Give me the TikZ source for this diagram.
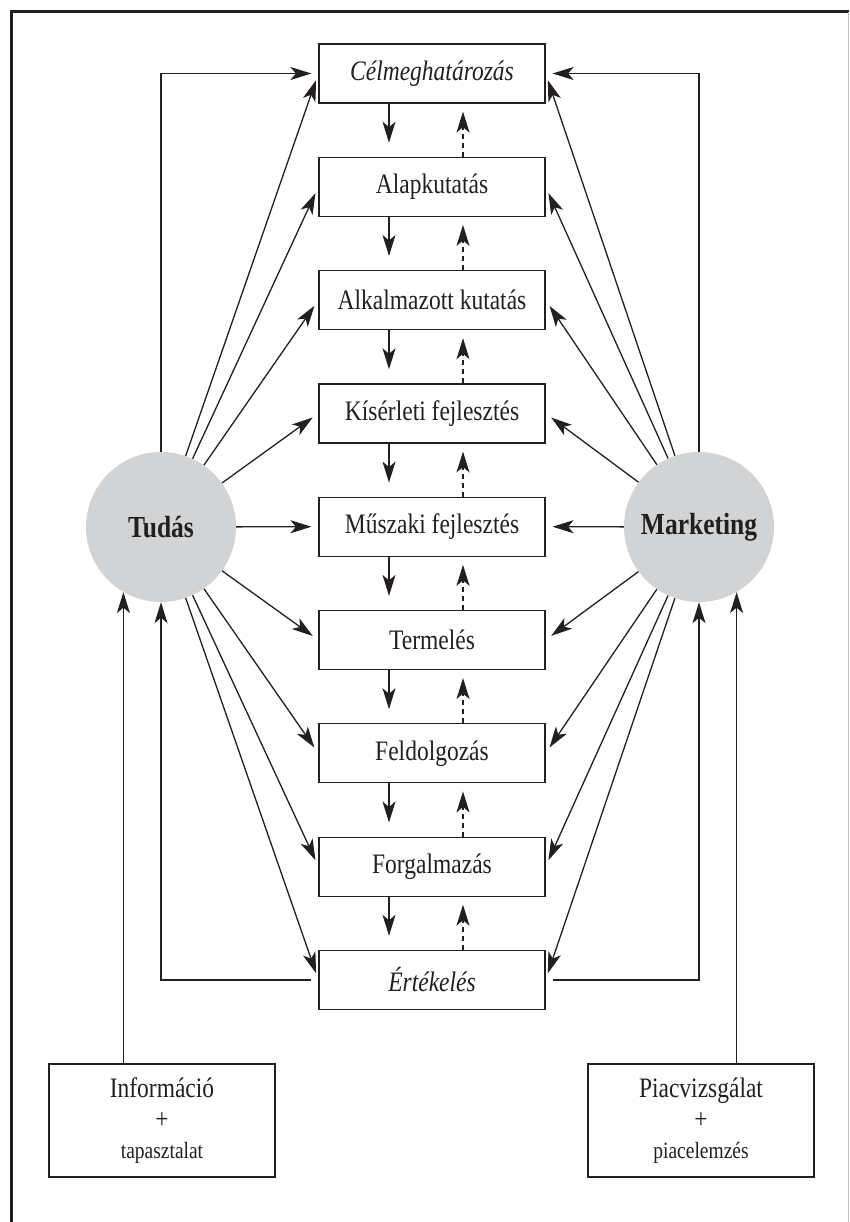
\documentclass[tikz,border=0pt]{standalone}
\usepackage{fontspec}
\setmainfont{Liberation Serif}
\usetikzlibrary{arrows.meta}
\definecolor{circgray}{HTML}{D1D3D4}
\definecolor{ink}{HTML}{231F20}
\newcommand\tallt[1]{\scalebox{1}[1.2]{#1}}
\newcommand\boxfont{\fontsize{23.5}{28}\selectfont}
\newcommand\smallboxfont{\fontsize{19.5}{24}\selectfont}
\newcommand\circfont{\fontsize{25.5}{30}\selectfont\bfseries}
\begin{document}
\begin{tikzpicture}[x=1pt,y=-1pt,
  box/.style={draw=ink, line width=1.2pt, minimum width=226pt, minimum height=59pt, inner sep=0pt, font=\boxfont, text=ink},
  infobox/.style={box, minimum height=113pt, align=center},
  circ/.style={circle, fill=circgray, minimum size=150pt, inner sep=0pt, font=\circfont, text=ink},
  arr/.style={-{Stealth[length=21pt,width=13pt,inset=5.5pt]}, line width=1.3pt, draw=ink},
  dasharr/.style={arr, dash pattern=on 5pt off 4pt}
]
\useasboundingbox (0,0) rectangle (850,1222);
% frame
\draw[ink, line width=2.6pt] (11.5,1222) -- (11.5,11.5) -- (849,11.5);
\draw[black!25, line width=1pt] (848.5,12) -- (848.5,1222);

% central boxes
\node[box] (celm) at (432,73.5)  {\tallt{\itshape Célmeghatározás}};
\node[box] (alap) at (432,186.8) {\tallt{Alapkutatás}};
\node[box] (alk)  at (432,300.1) {\tallt{Alkalmazott kutatás}};
\node[box] (kis)  at (432,413.4) {\tallt{Kísérleti fejlesztés}};
\node[box] (musz) at (432,526.7) {\tallt{Műszaki fejlesztés}};
\node[box] (term) at (432,640.0) {\tallt{Termelés}};
\node[box] (feld) at (432,753.3) {\tallt{Feldolgozás}};
\node[box] (forg) at (432,866.6) {\tallt{Forgalmazás}};
\node[box] (ert)  at (432,979.9) {\tallt{\itshape Értékelés}};

% circles
\node[circ] (tudas) at (161,527) {\tallt{Tudás}};
\node[circ] (mkt) at (699,527) {\tallt{Marketing}};

% bottom boxes
\node[infobox] (info) at (162,1120.5) {\tallt{Információ}\\[3pt]\tallt{+}\\[2pt]{\smallboxfont\tallt{tapasztalat}}};
\node[infobox] (piac) at (701,1120.5) {\tallt{Piacvizsgálat}\\[3pt]\tallt{+}\\[2pt]{\smallboxfont\tallt{piacelemzés}}};

% vertical chain arrows
\foreach \a/\b in {celm/alap,alap/alk,alk/kis,kis/musz,musz/term,term/feld,feld/forg,forg/ert}{
  \draw[arr, shorten >=14pt] ([xshift=-43pt]\a.south) -- ([xshift=-43pt]\b.north);
  \draw[dasharr, shorten >=8pt] ([xshift=31pt]\b.north) -- ([xshift=31pt]\a.south);
}

% radiating arrows
\foreach \n in {celm,alap,alk,kis,musz,term,feld,forg,ert}{
  \draw[arr, shorten >=7pt] (tudas) -- (\n.west);
  \draw[arr, shorten >=7pt] (mkt) -- (\n.east);
}

% loops
\draw[arr, shorten >=7pt] (tudas.north) |- (celm.west);
\draw[arr, shorten >=7pt] (mkt.north) |- (celm.east);
\draw[arr] ([xshift=-7pt]ert.west) -| (tudas.south);
\draw[arr] ([xshift=7pt]ert.east) -| (mkt.south);

% inputs
\draw[arr] (info.north -| tudas.240) -- (tudas.240);
\draw[arr] (piac.north -| mkt.300) -- (mkt.300);
\end{tikzpicture}
\end{document}
